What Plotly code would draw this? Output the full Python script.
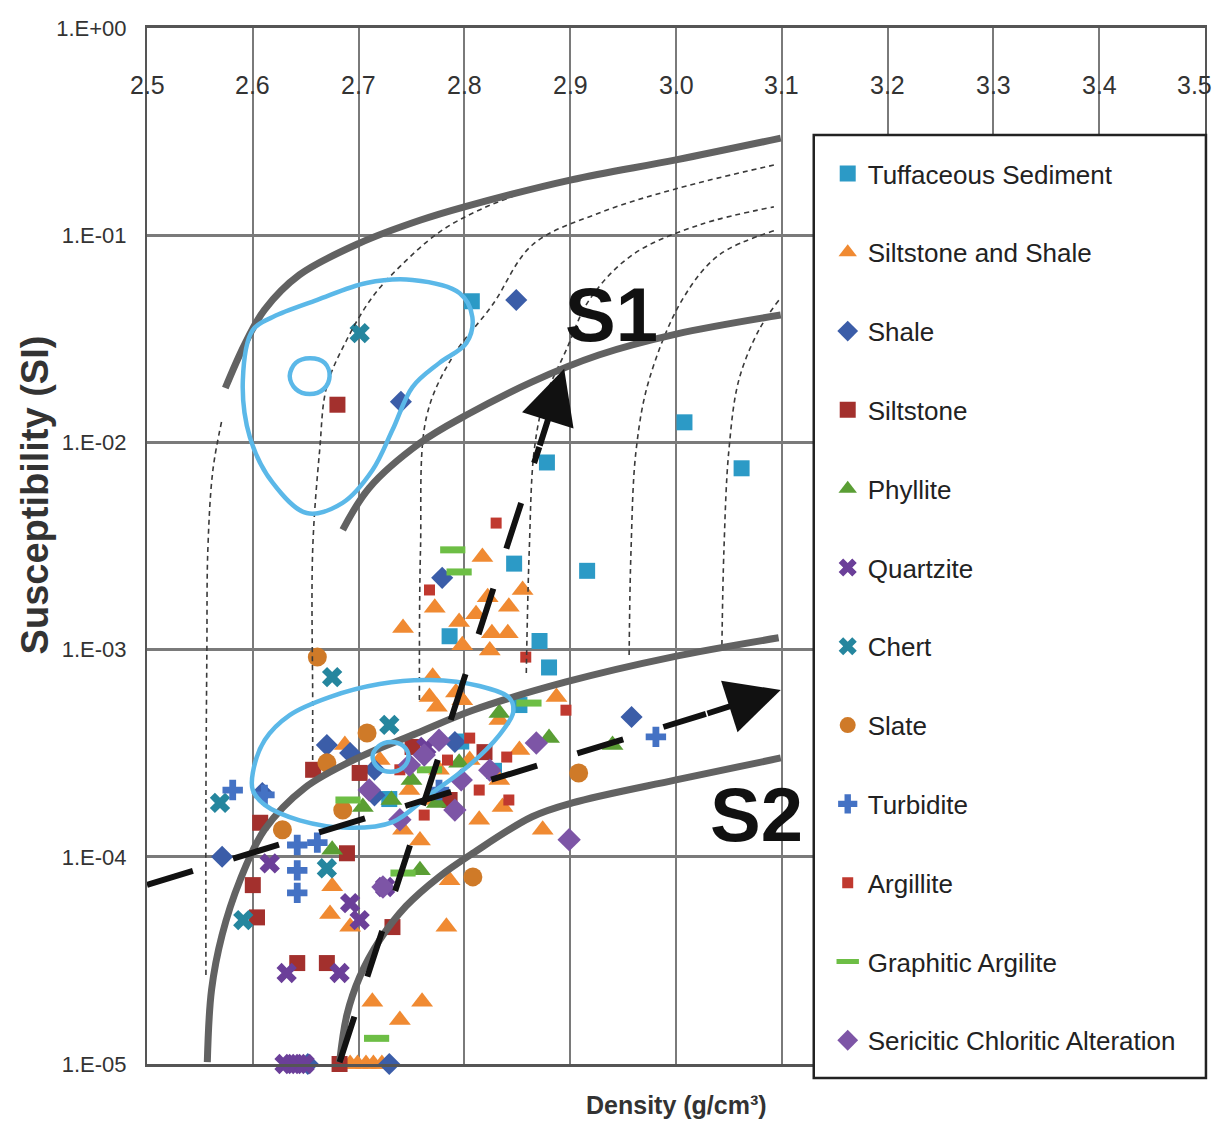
import math
import plotly.graph_objects as go

NARROW = "Liberation Sans Narrow, Arial Narrow, Liberation Sans, Arial, sans-serif"

# ---------------- axis ticks ----------------
x_ticks = [2.5, 2.6, 2.7, 2.8, 2.9, 3.0, 3.1, 3.2, 3.3, 3.4, 3.5]
x_ticktext = ["2.5", "2.6", "2.7", "2.8", "2.9", "3.0", "3.1", "3.2", "3.3", "3.4", "3.5"]
y_ticks = [1, 1e-1, 1e-2, 1e-3, 1e-4, 1e-5]
y_ticktext = ["1.E+00", "1.E-01", "1.E-02", "1.E-03", "1.E-04", "1.E-05"]

# ---------------- sample data (density g/cm3, susceptibility SI) ----------------
tuff_x = [2.807, 3.008, 3.062, 2.878, 2.916, 2.847, 2.871, 2.880, 2.786, 2.852, 2.797, 2.729, 2.828]
tuff_y = [4.8e-2, 1.25e-2, 7.5e-3, 8.0e-3, 2.4e-3, 2.6e-3, 1.1e-3, 8.2e-4, 1.16e-3, 5.4e-4, 3.6e-4, 1.9e-4, 2.6e-4]

silsh_x = [2.742, 2.772, 2.795, 2.811, 2.817, 2.822, 2.842, 2.855, 2.826, 2.841, 2.798, 2.824, 2.770,
           2.774, 2.798, 2.887, 2.874, 2.836, 2.786, 2.783, 2.713, 2.739, 2.760, 2.673, 2.692, 2.675,
           2.692, 2.699, 2.707, 2.714, 2.722, 2.758, 2.770, 2.742, 2.767, 2.792, 2.805, 2.833, 2.720,
           2.687, 2.776, 2.748, 2.814, 2.852, 2.833]
silsh_y = [1.27e-3, 1.59e-3, 1.36e-3, 1.48e-3, 2.8e-3, 1.79e-3, 1.61e-3, 1.94e-3, 1.2e-3, 1.2e-3, 1.05e-3, 9.9e-4, 7.4e-4,
           5.3e-4, 5.7e-4, 5.9e-4, 1.35e-4, 1.74e-4, 7.7e-5, 4.6e-5, 2.0e-5, 1.63e-5, 2.0e-5, 5.3e-5, 4.6e-5, 7.2e-5,
           1e-5, 1e-5, 1e-5, 1e-5, 1e-5, 1.2e-4, 1.88e-4, 1.35e-4, 5.9e-4, 6.2e-4, 2.93e-4, 2.35e-4, 2.93e-4,
           3.46e-4, 2.63e-4, 2.1e-4, 1.51e-4, 3.28e-4, 4.57e-4]

shale_x = [2.849, 2.740, 2.779, 2.958, 2.670, 2.571, 2.729, 2.652, 2.715, 2.791, 2.692, 2.715, 2.609]
shale_y = [4.87e-2, 1.57e-2, 2.22e-3, 4.73e-4, 3.46e-4, 1.0e-4, 1.0e-5, 1.0e-5, 2.63e-4, 3.58e-4, 3.17e-4, 1.98e-4, 2.03e-4]

silt_x = [2.680, 2.607, 2.600, 2.604, 2.642, 2.670, 2.682, 2.732, 2.657, 2.701, 2.689, 2.819, 2.786, 2.751]
silt_y = [1.52e-2, 1.46e-4, 7.3e-5, 5.1e-5, 3.07e-5, 3.07e-5, 1.0e-5, 4.58e-5, 2.63e-4, 2.54e-4, 1.04e-4, 3.2e-4, 1.88e-4, 3.39e-4]

phyl_x = [2.880, 2.940, 2.833, 2.750, 2.731, 2.774, 2.675, 2.704, 2.795, 2.758]
phyl_y = [3.74e-4, 3.46e-4, 4.94e-4, 2.35e-4, 1.88e-4, 1.82e-4, 1.08e-4, 1.74e-4, 2.84e-4, 8.6e-5]

quartz_x = [2.630, 2.637, 2.643, 2.649, 2.632, 2.682, 2.692, 2.701, 2.616, 2.725, 2.764]
quartz_y = [1e-5, 1e-5, 1e-5, 1e-5, 2.75e-5, 2.75e-5, 5.98e-5, 4.95e-5, 9.3e-5, 7.15e-5, 3.39e-4]

chert_x = [2.701, 2.569, 2.675, 2.591, 2.670, 2.729]
chert_y = [3.37e-2, 1.82e-4, 7.37e-4, 4.95e-5, 8.8e-5, 4.33e-4]

slate_x = [2.661, 2.708, 2.808, 2.908, 2.670, 2.628, 2.685]
slate_y = [9.2e-4, 3.96e-4, 8.0e-5, 2.54e-4, 2.84e-4, 1.35e-4, 1.68e-4]

turb_x = [2.981, 2.642, 2.642, 2.642, 2.611, 2.581, 2.776, 2.661]
turb_y = [3.79e-4, 1.14e-4, 8.6e-5, 6.7e-5, 1.99e-4, 2.1e-4, 2.1e-4, 1.17e-4]

arg_x = [2.830, 2.767, 2.858, 2.896, 2.840, 2.805, 2.784, 2.739, 2.762, 2.814, 2.842]
arg_y = [4.08e-3, 1.94e-3, 9.2e-4, 5.1e-4, 3.03e-4, 3.74e-4, 2.93e-4, 2.63e-4, 1.59e-4, 2.1e-4, 1.88e-4]

graph_x = [2.789, 2.795, 2.861, 2.717, 2.742, 2.690, 2.767]
graph_y = [3.03e-3, 2.37e-3, 5.52e-4, 1.33e-5, 8.35e-5, 1.88e-4, 2.63e-4]

seric_x = [2.899, 2.868, 2.723, 2.762, 2.776, 2.748, 2.797, 2.824, 2.791, 2.739, 2.710]
seric_y = [1.21e-4, 3.54e-4, 7.15e-5, 3.1e-4, 3.65e-4, 2.77e-4, 2.35e-4, 2.62e-4, 1.68e-4, 1.51e-4, 2.1e-4]

series_names = ["Tuffaceous Sediment", "Siltstone and Shale", "Shale", "Siltstone", "Phyllite",
                "Quartzite", "Chert", "Slate", "Turbidite", "Argillite", "Graphitic Argilite",
                "Sericitic Chloritic Alteration"]
series_xy = [(tuff_x, tuff_y), (silsh_x, silsh_y), (shale_x, shale_y), (silt_x, silt_y),
             (phyl_x, phyl_y), (quartz_x, quartz_y), (chert_x, chert_y), (slate_x, slate_y),
             (turb_x, turb_y), (arg_x, arg_y), (graph_x, graph_y), (seric_x, seric_y)]
series_symbols = ["square", "triangle-up", "diamond", "square", "triangle-up", "x", "x", "circle",
                  "cross", "square", "line-ew", "diamond"]
series_colors = ["#2C9AC6", "#F08A32", "#3B5DA8", "#A3302D", "#5A9E34", "#6B3F99", "#25869E",
                 "#CF7A28", "#4472C4", "#C0392F", "#6DBE45", "#7D55A6"]
series_sizes = [16, 19, 17, 16, 19, 18, 18, 19, 17, 11, 18, 18]

# ---------------- model curves ----------------
s1_top_x = [2.574, 2.592, 2.611, 2.644, 2.701, 2.758, 2.800, 2.901, 3.000, 3.099]
s1_top_y = [0.0183, 0.0295, 0.0436, 0.0643, 0.0916, 0.118, 0.137, 0.185, 0.231, 0.294]
s1_bot_x = [2.685, 2.710, 2.758, 2.802, 2.864, 2.927, 3.000, 3.099]
s1_bot_y = [0.00378, 0.00603, 0.00993, 0.01355, 0.0196, 0.0264, 0.0333, 0.0412]
s2_top_x = [2.557, 2.561, 2.571, 2.588, 2.611, 2.649, 2.701, 2.755, 2.808, 2.896, 2.996, 3.097]
s2_top_y = [1.02e-5, 2.28e-5, 4.20e-5, 7.73e-5, 1.35e-4, 2.15e-4, 3.03e-4, 3.95e-4, 5.10e-4, 6.98e-4, 9.20e-4, 1.14e-3]
s2_bot_x = [2.682, 2.689, 2.701, 2.720, 2.745, 2.776, 2.808, 2.864, 2.902, 3.000, 3.099]
s2_bot_y = [1.02e-5, 1.73e-5, 2.63e-5, 3.97e-5, 5.79e-5, 8.0e-5, 1.04e-4, 1.56e-4, 1.82e-4, 2.35e-4, 3.0e-4]

# thin dashed iso-lines
iso1_x = [2.5557, 2.5557, 2.5566, 2.5575, 2.5623, 2.5708]
iso1_y = [2.69e-5, 1.88e-4, 9.95e-4, 3.03e-3, 7.36e-3, 1.28e-2]
iso2_x = [2.6566, 2.6566, 2.6566, 2.6632, 2.6698, 2.6887, 2.7132, 2.7387, 2.7764, 2.8142, 2.8642, 2.9274, 2.9906]
iso2_y = [2.93e-4, 5.71e-4, 3.03e-3, 9.18e-3, 1.85e-2, 3.12e-2, 5.04e-2, 7.03e-2, 0.1035, 0.1324, 0.1652, 0.1954, 0.2230]
iso3_x = [2.7575, 2.7585, 2.7642, 2.7887, 2.8264, 2.8642, 2.9274, 3.0028, 3.0925]
iso3_y = [5.71e-4, 3.03e-3, 1.33e-2, 2.58e-2, 4.60e-2, 8.97e-2, 0.128, 0.169, 0.218]
iso4_x = [2.8585, 2.8613, 2.866, 2.8755, 2.8962, 2.9179, 2.9585, 3.0217, 3.0925]
iso4_y = [7.71e-4, 3.03e-3, 9.18e-3, 1.60e-2, 2.79e-2, 4.86e-2, 8.02e-2, 0.112, 0.137]
iso5_x = [2.9557, 2.9575, 2.9623, 2.9745, 3.0057, 3.0406, 3.0925]
iso5_y = [9.42e-4, 3.03e-3, 9.18e-3, 2.0e-2, 4.86e-2, 8.02e-2, 0.105]
iso6_x = [3.0434, 3.0453, 3.05, 3.0594, 3.0783, 3.0972]
iso6_y = [1.05e-3, 3.03e-3, 9.18e-3, 2.0e-2, 3.48e-2, 4.86e-2]

# blue density contours
c1_x = [2.600, 2.5906, 2.5972, 2.6189, 2.6509, 2.6849, 2.7132, 2.7321, 2.7509, 2.7764, 2.8019, 2.8075,
        2.7953, 2.7509, 2.7075, 2.6604, 2.6189, 2.600]
c1_y = [0.0349, 0.0200, 0.0106, 0.00637, 0.00456, 0.00511, 0.00736, 0.0115, 0.0185, 0.0242, 0.0302, 0.0403,
        0.0526, 0.0608, 0.0588, 0.0486, 0.0403, 0.0349]
c2_x = [2.6349, 2.6406, 2.6538, 2.6679, 2.6726, 2.667, 2.6538, 2.6406, 2.6349]
c2_y = [0.0209, 0.0242, 0.0255, 0.0242, 0.0209, 0.0181, 0.0171, 0.0181, 0.0209]
c3_x = [2.600, 2.6113, 2.6349, 2.6726, 2.7198, 2.767, 2.8142, 2.8425, 2.8462, 2.833, 2.8047, 2.767,
        2.7321, 2.6915, 2.6443, 2.6113, 2.600, 2.600]
c3_y = [2.54e-4, 3.66e-4, 4.83e-4, 5.90e-4, 6.82e-4, 7.13e-4, 6.67e-4, 5.84e-4, 5.0e-4, 3.87e-4, 2.77e-4,
        1.99e-4, 1.47e-4, 1.38e-4, 1.50e-4, 1.78e-4, 2.10e-4, 2.54e-4]
c4_x = [2.7132, 2.7189, 2.7302, 2.7425, 2.7472, 2.7415, 2.7302, 2.7189, 2.7132]
c4_y = [3.03e-4, 3.42e-4, 3.58e-4, 3.42e-4, 3.03e-4, 2.68e-4, 2.57e-4, 2.68e-4, 3.03e-4]

# trend arrows (dashed shaft end points, arrow tip)
arrow1_line_x = [2.682, 2.8708]
arrow1_line_y = [1.02e-5, 9.5e-3]
arrow1_tip = (2.8943, 10 ** -1.645)
arrow2_line_x = [2.500, 3.0283]
arrow2_line_y = [7.31e-5, 4.89e-4]
arrow2_tip = (3.099, 10 ** -3.195)

fig = go.Figure()

for name, (xs, ys), sym, col, sz in zip(series_names, series_xy, series_symbols, series_colors, series_sizes):
    if sym == "line-ew":
        marker = dict(symbol=sym, size=sz, color=col, line=dict(color=col, width=7))
    else:
        marker = dict(symbol=sym, size=sz, color=col, line=dict(width=0))
    fig.add_trace(go.Scatter(x=xs, y=ys, mode="markers", name=name, marker=marker,
                             legendgroup=name, cliponaxis=False))

for xs, ys in [(iso1_x, iso1_y), (iso2_x, iso2_y), (iso3_x, iso3_y), (iso4_x, iso4_y),
               (iso5_x, iso5_y), (iso6_x, iso6_y)]:
    fig.add_trace(go.Scatter(x=xs, y=ys, mode="lines", showlegend=False, hoverinfo="skip",
                             line=dict(color="#3a3a3a", width=1.6, dash="5px,4px", shape="spline")))

for xs, ys in [(s1_top_x, s1_top_y), (s1_bot_x, s1_bot_y), (s2_top_x, s2_top_y), (s2_bot_x, s2_bot_y)]:
    fig.add_trace(go.Scatter(x=xs, y=ys, mode="lines", showlegend=False, hoverinfo="skip",
                             line=dict(color="#626262", width=7, shape="spline")))

for xs, ys in [(c1_x, c1_y), (c2_x, c2_y), (c3_x, c3_y), (c4_x, c4_y)]:
    fig.add_trace(go.Scatter(x=xs, y=ys, mode="lines", showlegend=False, hoverinfo="skip",
                             line=dict(color="#5BB8E8", width=4.5, shape="spline", smoothing=1.0)))

for xs, ys in [(arrow1_line_x, arrow1_line_y), (arrow2_line_x, arrow2_line_y)]:
    fig.add_trace(go.Scatter(x=xs, y=ys, mode="lines", showlegend=False, hoverinfo="skip",
                             line=dict(color="#111111", width=6, dash="48px,42px")))

annotations = []
for (lx, ly), (tx, ty) in [((arrow1_line_x[1], arrow1_line_y[1]), arrow1_tip),
                           ((arrow2_line_x[1], arrow2_line_y[1]), arrow2_tip)]:
    annotations.append(dict(x=tx, y=math.log10(ty), ax=lx, ay=math.log10(ly), xref="x", yref="y",
                            axref="x", ayref="y", text="", showarrow=True, arrowhead=2,
                            arrowsize=1.8, arrowwidth=6, arrowcolor="#111111"))

# x tick labels drawn inside the plot, just under the top axis
for i, (t, lab) in enumerate(zip(x_ticks, x_ticktext)):
    last = i == len(x_ticks) - 1
    annotations.append(dict(x=t, y=0.945, xref="x", yref="paper", text=lab, showarrow=False,
                            xanchor="right" if last else "center", xshift=9 if last else 0,
                            yanchor="middle",
                            font=dict(family=NARROW, size=25, color="#333333")))

annotations.append(dict(x=2.9387, y=-1.385, xref="x", yref="y", text="<b>S1</b>", showarrow=False,
                        font=dict(family=NARROW, size=76, color="#111111")))
annotations.append(dict(x=3.0764, y=-3.798, xref="x", yref="y", text="<b>S2</b>", showarrow=False,
                        font=dict(family=NARROW, size=76, color="#111111")))
annotations.append(dict(x=0.5, y=-0.0396, xref="paper", yref="paper", text="<b>Density (g/cm³)</b>",
                        showarrow=False, xanchor="center", yanchor="middle",
                        font=dict(family=NARROW, size=25, color="#333333")))
annotations.append(dict(x=-0.1057, y=0.549, xref="paper", yref="paper", text="<b>Susceptibility (SI)</b>",
                        showarrow=False, textangle=-90, xanchor="center", yanchor="middle",
                        font=dict(family="Liberation Sans, Arial, sans-serif", size=38, color="#333333")))

fig.update_layout(
    width=1219, height=1131,
    margin=dict(l=147, r=12, t=28, b=67),
    paper_bgcolor="white", plot_bgcolor="white",
    showlegend=True,
    legend=dict(x=0.6434, y=0.8822, xanchor="left", yanchor="top", bgcolor="rgba(0,0,0,0)",
                borderwidth=0, font=dict(family=NARROW, size=26, color="#222222"),
                tracegroupgap=42),
    annotations=annotations,
    shapes=[dict(type="rect", xref="paper", yref="paper", x0=0.6302, x1=1.0009, y0=-0.0135, y1=0.8967,
                 fillcolor="white", line=dict(color="#222222", width=2.5), layer="above")],
    xaxis=dict(range=[2.5, 3.5], side="top", tickmode="array", tickvals=x_ticks, ticktext=x_ticktext,
               showticklabels=False, ticks="",
               showgrid=True, gridcolor="#7a7a7a", gridwidth=2, zeroline=False,
               showline=True, linecolor="#555555", linewidth=3, mirror=True),
    yaxis=dict(type="log", range=[-5, 0], tickmode="array", tickvals=y_ticks, ticktext=y_ticktext,
               ticks="", ticklabelstandoff=14,
               showgrid=True, gridcolor="#7a7a7a", gridwidth=2.5, zeroline=False,
               showline=True, linecolor="#555555", linewidth=2, mirror=True,
               tickfont=dict(family=NARROW, size=22, color="#333333")),
)

fig.write_html("out.html")
